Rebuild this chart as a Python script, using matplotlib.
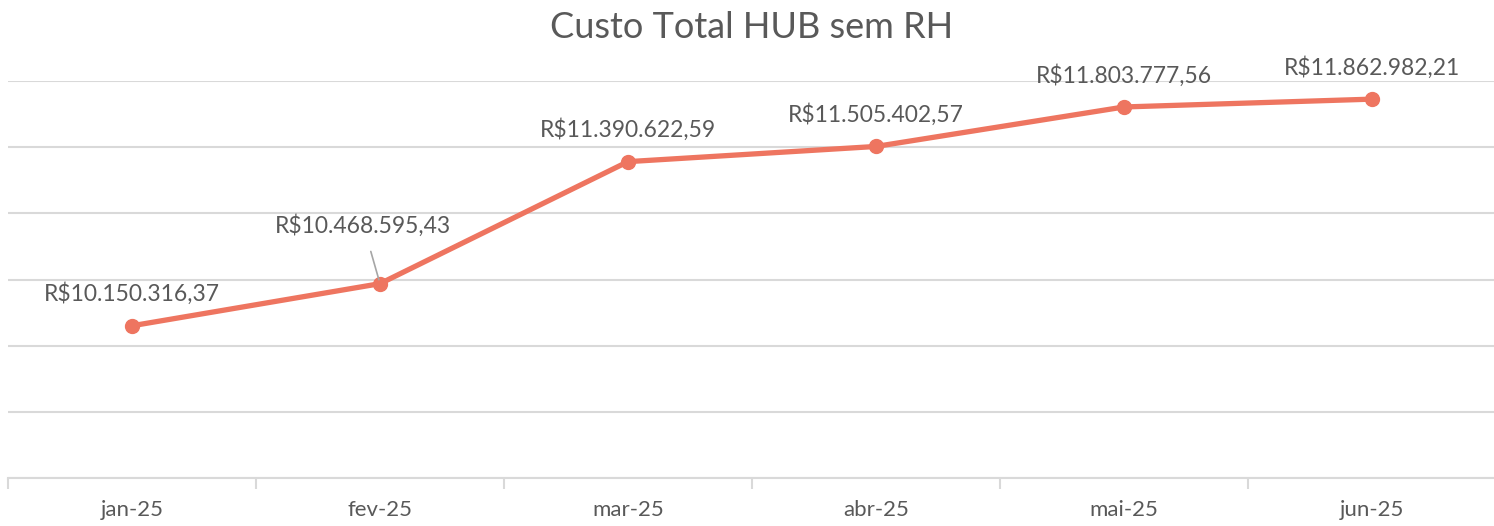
import numpy as np
import matplotlib.pyplot as plt

plt.rcParams['font.family'] = ['Lato', 'DejaVu Sans']

# dados mensais
meses = ['jan-25', 'fev-25', 'mar-25', 'abr-25', 'mai-25', 'jun-25']
custo = [10150316.37, 10468595.43, 11390622.59, 11505402.57, 11803777.56, 11862982.21]

def brl(v):
    s = f"{v:,.2f}"
    s = s.replace(',', 'X').replace('.', ',').replace('X', '.')
    return 'R$' + s

cor_linha = '#EE7560'
cor_texto = '#595959'
cor_grade = '#D9D9D9'

fig = plt.figure(figsize=(14.94, 5.26), dpi=100)
ax = fig.add_axes([8/1494, 1 - 478/526, 1488/1494, (478 - 81)/526])

x = np.arange(len(meses))
ax.plot(x, custo, color=cor_linha, lw=3.8, marker='o', ms=10, zorder=3,
        solid_capstyle='round')

ax.set_xlim(-0.5, len(meses) - 0.5)
ax.set_ylim(9e6, 12e6)
ax.set_yticks(np.arange(9e6, 12.01e6, 0.5e6))
ax.yaxis.grid(True, color=cor_grade, lw=1.5)
ax.set_axisbelow(True)
ax.tick_params(axis='y', left=False, labelleft=False)

ax.set_xticks(x)
ax.set_xticklabels(meses, fontsize=16, color=cor_texto)
ax.tick_params(axis='x', length=0, pad=16)
ax.set_xticks(np.arange(-0.5, len(meses), 1), minor=True)
ax.tick_params(axis='x', which='minor', length=8, width=1.5, color=cor_grade)

for s in ['top', 'right', 'left']:
    ax.spines[s].set_visible(False)
ax.spines['bottom'].set_color(cor_grade)
ax.spines['bottom'].set_linewidth(1.5)

# rótulos de valor
for i, v in enumerate(custo):
    if i == 1:
        ax.annotate(brl(v), xy=(i, v), xytext=(-12, 42), textcoords='offset points',
                    ha='center', va='center', fontsize=16.5, color=cor_texto,
                    arrowprops=dict(arrowstyle='-', color='#A6A6A6', lw=1.2,
                                    shrinkA=9, shrinkB=3))
    else:
        ax.annotate(brl(v), xy=(i, v), xytext=(0, 23), textcoords='offset points',
                    ha='center', va='center', fontsize=16.5, color=cor_texto)

fig.text(752/1494, 1 - 28/526, 'Custo Total HUB sem RH', ha='center', va='center',
         fontsize=26, color=cor_texto)

fig.savefig('out.png', dpi=100)
